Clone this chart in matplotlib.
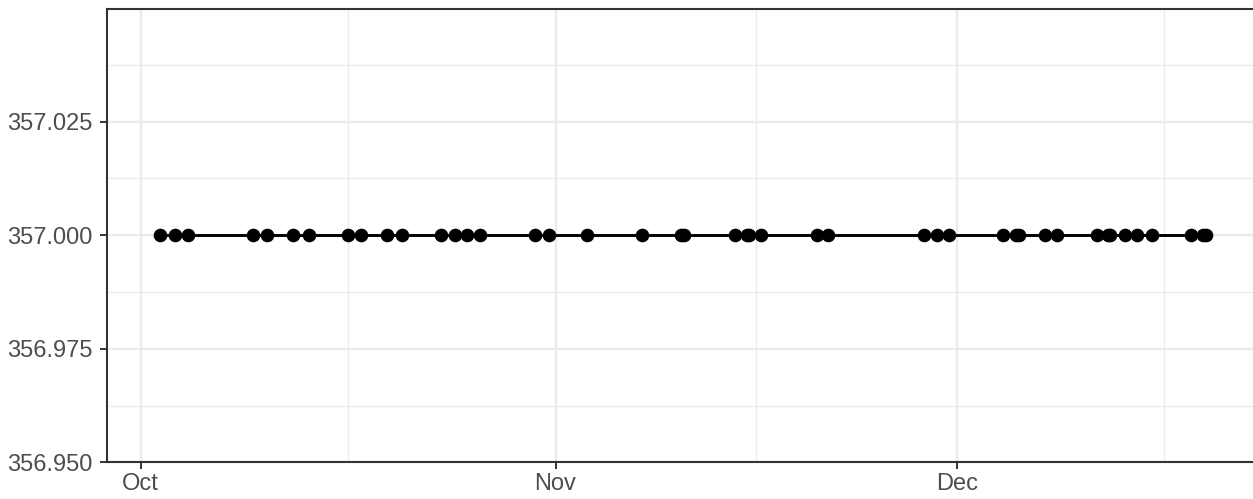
import matplotlib
matplotlib.use("Agg")
import matplotlib.pyplot as plt
import matplotlib.dates as mdates
import pandas as pd

timestamps = [
    "2019-10-02 10:00", "2019-10-03 13:00", "2019-10-04 13:00", "2019-10-09 10:00",
    "2019-10-10 10:00", "2019-10-12 10:00", "2019-10-13 14:00", "2019-10-16 12:00",
    "2019-10-17 12:00", "2019-10-19 10:00", "2019-10-20 13:00", "2019-10-23 11:00",
    "2019-10-24 11:00", "2019-10-25 09:00", "2019-10-26 08:00", "2019-10-30 12:00",
    "2019-10-31 12:00", "2019-11-03 08:00", "2019-11-07 11:00", "2019-11-10 09:00",
    "2019-11-10 15:00", "2019-11-14 10:00", "2019-11-15 08:00", "2019-11-15 11:00",
    "2019-11-16 09:00", "2019-11-20 13:00", "2019-11-21 09:00", "2019-11-28 13:00",
    "2019-11-29 12:00", "2019-11-30 10:00", "2019-12-04 11:00", "2019-12-05 10:00",
    "2019-12-05 15:00", "2019-12-07 14:00", "2019-12-08 11:00", "2019-12-11 11:00",
    "2019-12-12 06:00", "2019-12-12 11:00", "2019-12-13 14:00", "2019-12-14 10:00",
    "2019-12-15 14:00", "2019-12-18 12:00", "2019-12-19 09:00", "2019-12-19 15:00",
]
values = [357.0] * len(timestamps)

y_ticks = [356.950, 356.975, 357.000, 357.025]
y_tick_labels = ["356.950", "356.975", "357.000", "357.025"]
y_minor = [356.9625, 356.9875, 357.0125, 357.0375]
x_major = ["2019-10-01", "2019-11-01", "2019-12-01"]
x_major_labels = ["Oct", "Nov", "Dec"]
x_minor = ["2019-10-16 12:00", "2019-11-16 00:00", "2019-12-16 12:00"]

plt.rcParams['font.family'] = ['Liberation Sans', 'DejaVu Sans']

W, H = 1253, 499
fig = plt.figure(figsize=(W / 100, H / 100), dpi=100)
ax = fig.add_axes([107.3 / W, (H - 462.3) / H, (1258.6 - 107.3) / W, (462.3 - 9) / H])

t = pd.to_datetime(timestamps)
tn = mdates.date2num(t.to_pydatetime())
span = tn.max() - tn.min()
ax.set_xlim(tn.min() - 0.05 * span, tn.max() + 0.05 * span)
ax.set_ylim(356.95, 357.0498)

grid_c = "#EBEBEB"
for v in y_minor:
    ax.axhline(v, color=grid_c, lw=0.9, zorder=0)
for v in y_ticks:
    ax.axhline(v, color=grid_c, lw=1.7, zorder=0)
for v in mdates.date2num(pd.to_datetime(x_minor).to_pydatetime()):
    ax.axvline(v, color=grid_c, lw=0.9, zorder=0)
xm = mdates.date2num(pd.to_datetime(x_major).to_pydatetime())
for v in xm:
    ax.axvline(v, color=grid_c, lw=1.7, zorder=0)

ax.plot(tn, values, color="black", lw=2.1, zorder=2)
ax.plot(tn, values, "o", color="black", ms=8.8, zorder=3)

ax.set_xticks(xm)
ax.set_xticklabels(x_major_labels)
ax.set_yticks(y_ticks)
ax.set_yticklabels(y_tick_labels)
ax.tick_params(axis="both", colors="#333333", labelcolor="#4D4D4D", labelsize=17,
               length=5, width=1.4)
ax.tick_params(axis="y", pad=5.5)
ax.tick_params(axis="x", pad=3)

for s in ax.spines.values():
    s.set_color("#333333")
    s.set_linewidth(1.5)
ax.spines["right"].set_visible(False)

fig.savefig("out.png", dpi=100)
